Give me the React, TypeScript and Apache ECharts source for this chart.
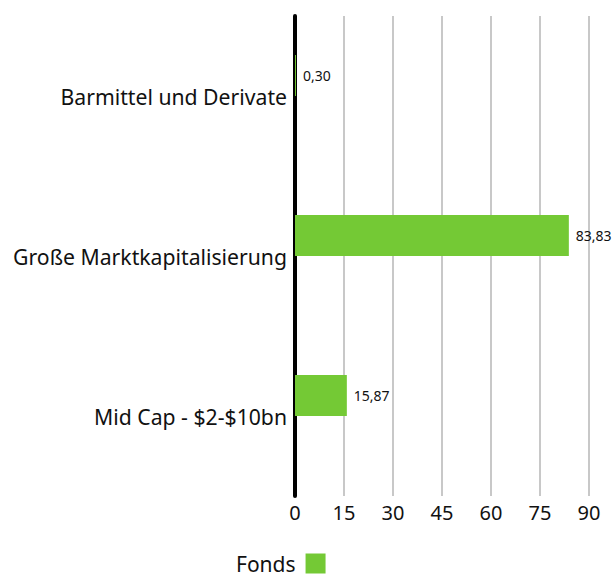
import React, { useEffect, useRef } from "react";
import * as echarts from "echarts";

const categories = ["Barmittel und Derivate", "Große Marktkapitalisierung", "Mid Cap - $2-$10bn"];
const fondsValues = [0.3, 83.83, 15.87];
const hiddenValues = [null, null, null];
const seriesName = "Fonds";

export default function App() {
  const ref = useRef<HTMLDivElement>(null);
  useEffect(() => {
    if (!ref.current) return;
    const chart = echarts.init(ref.current, null, { renderer: "svg" });
    const font = "Noto Sans";
    chart.setOption({
      animation: false,
      textStyle: { fontFamily: font },
      grid: { left: 295, right: 26, top: 16, bottom: 81, containLabel: false },
      legend: {
        data: [seriesName],
        bottom: 3,
        left: 236,
        padding: 0,
        align: "right",
        icon: "rect",
        itemWidth: 20,
        itemHeight: 20,
        itemGap: 8,
        textStyle: { fontSize: 21, color: "#111", fontFamily: font, padding: [0, 5, 0, 0] },
      },
      xAxis: {
        type: "value",
        min: 0,
        max: 90,
        interval: 15,
        axisLine: { show: false },
        axisTick: { show: false },
        splitLine: { show: true, lineStyle: { color: "#c8c8c8", width: 2 } },
        axisLabel: { fontSize: 20, color: "#111", margin: 6, fontFamily: font },
      },
      yAxis: {
        type: "category",
        data: categories,
        inverse: true,
        axisLine: { show: true, lineStyle: { color: "#000", width: 4 } },
        axisTick: { show: false },
        splitLine: { show: false },
        axisLabel: { fontSize: 21.2, color: "#111", margin: 8, fontFamily: font },
      },
      series: [
        {
          name: seriesName,
          type: "bar",
          data: fondsValues,
          barWidth: 41,
          barGap: 0,
          itemStyle: { color: "#74c935" },
          label: {
            show: true,
            position: "right",
            distance: 7,
            fontSize: 14,
            color: "#111",
            fontFamily: font,
            formatter: (p: any) => p.value.toFixed(2).replace(".", ","),
          },
        },
        {
          name: "hidden",
          type: "bar",
          data: hiddenValues,
          barWidth: 41,
          itemStyle: { color: "transparent" },
        },
      ],
    });
    return () => chart.dispose();
  }, []);
  return <div ref={ref} style={{ width: 615, height: 577, position: "absolute", left: 0, top: 0 }} />;
}
